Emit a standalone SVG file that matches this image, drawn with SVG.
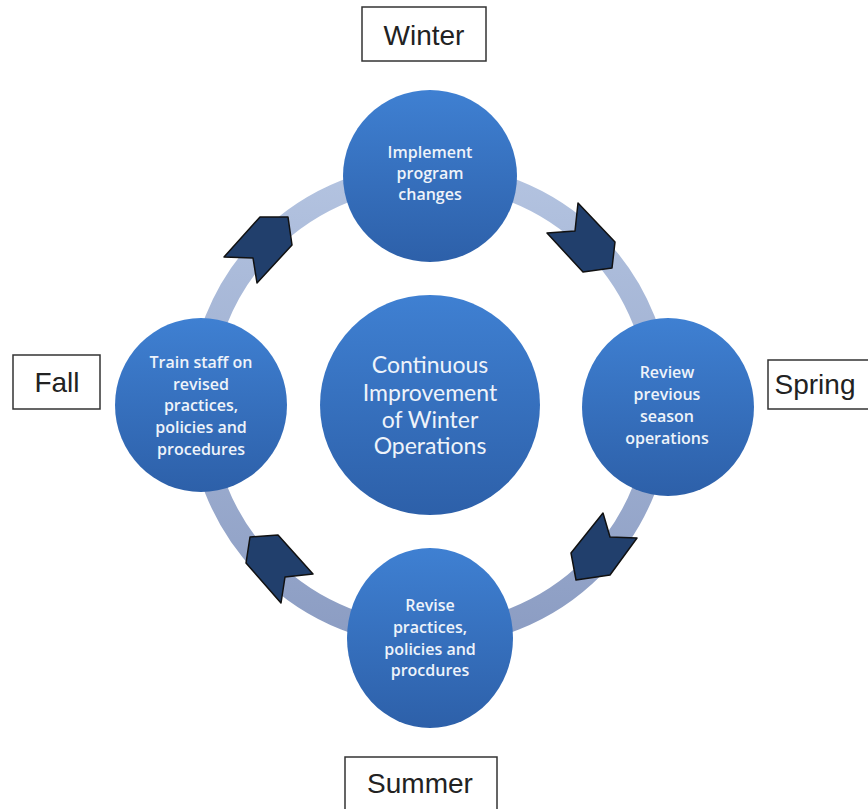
<svg xmlns="http://www.w3.org/2000/svg" width="868" height="809" viewBox="0 0 868 809">
<defs>
<linearGradient id="ringGrad" x1="0" y1="0" x2="0" y2="1">
<stop offset="0" stop-color="#b3c3e0"/>
<stop offset="1" stop-color="#8c9dc3"/>
</linearGradient>
<linearGradient id="ballGrad" x1="0" y1="0" x2="0" y2="1">
<stop offset="0" stop-color="#3f80d2"/>
<stop offset="1" stop-color="#2d60a9"/>
</linearGradient>
<style>
.ball{fill:url(#ballGrad);}
.bt{font-family:"Open Sans",Lato,"DejaVu Sans",sans-serif;font-size:16px;font-weight:600;fill:#eef3fa;text-anchor:middle;}
.ct{font-family:Lato,"Open Sans","DejaVu Sans",sans-serif;font-size:23px;fill:#eef3fa;text-anchor:middle;}
.box{fill:#ffffff;stroke:#333333;stroke-width:1.5;}
.lt{font-family:"Liberation Sans",Arial,sans-serif;font-size:28px;fill:#222222;text-anchor:middle;}
.chev{fill:#213f6c;stroke:#111111;stroke-width:1.5;stroke-linejoin:round;}
</style>
</defs>
<rect width="868" height="809" fill="#ffffff"/>
<g id="connectors">
<circle cx="430" cy="405" r="230" fill="none" stroke="url(#ringGrad)" stroke-width="23"/>
<polygon class="chev" points="547,233 575,231 578,203 615,242 612,268 583,272"/>
<polygon class="chev" points="603,513 610,537 637,538 610,575 576,580 571,553"/>
<polygon class="chev" points="250,537 278,535 313,574 285,577 281,603 246,563"/>
<polygon class="chev" points="260,217 288,217 292,245 257,283 253,258 224,257"/>
</g>
<g id="center">
<circle class="ball" cx="430" cy="405" r="110"/>
<text class="ct" x="430" y="373">Continuous</text>
<text class="ct" x="430" y="401">Improvement</text>
<text class="ct" x="430" y="428">of Winter</text>
<text class="ct" x="430" y="454">Operations</text>
</g>
<g id="top">
<ellipse class="ball" cx="430" cy="176" rx="87" ry="86"/>
<text class="bt" x="430" y="158">Implement</text>
<text class="bt" x="430" y="179">program</text>
<text class="bt" x="430" y="200">changes</text>
</g>
<g id="right">
<ellipse class="ball" cx="668" cy="407" rx="86" ry="89"/>
<text class="bt" x="667" y="378">Review</text>
<text class="bt" x="667" y="400">previous</text>
<text class="bt" x="667" y="422">season</text>
<text class="bt" x="667" y="444">operations</text>
</g>
<g id="bottom">
<ellipse class="ball" cx="430" cy="638" rx="83" ry="90"/>
<text class="bt" x="430" y="611">Revise</text>
<text class="bt" x="430" y="633">practices,</text>
<text class="bt" x="430" y="655">policies and</text>
<text class="bt" x="430" y="676">procdures</text>
</g>
<g id="left">
<ellipse class="ball" cx="201" cy="405" rx="86" ry="87"/>
<text class="bt" x="201" y="368">Train staff on</text>
<text class="bt" x="201" y="390">revised</text>
<text class="bt" x="201" y="411">practices,</text>
<text class="bt" x="201" y="433">policies and</text>
<text class="bt" x="201" y="455">procedures</text>
</g>
<g id="label-winter">
<rect class="box" x="362" y="7" width="124" height="54"/>
<text class="lt" x="424" y="45">Winter</text>
</g>
<g id="label-fall">
<rect class="box" x="13" y="355" width="87" height="54"/>
<text class="lt" x="57" y="392">Fall</text>
</g>
<g id="label-spring">
<rect class="box" x="768" y="360" width="110" height="49"/>
<text class="lt" x="815" y="394">Spring</text>
</g>
<g id="label-summer">
<rect class="box" x="345" y="757" width="152" height="60"/>
<text class="lt" x="420" y="793">Summer</text>
</g>
</svg>
